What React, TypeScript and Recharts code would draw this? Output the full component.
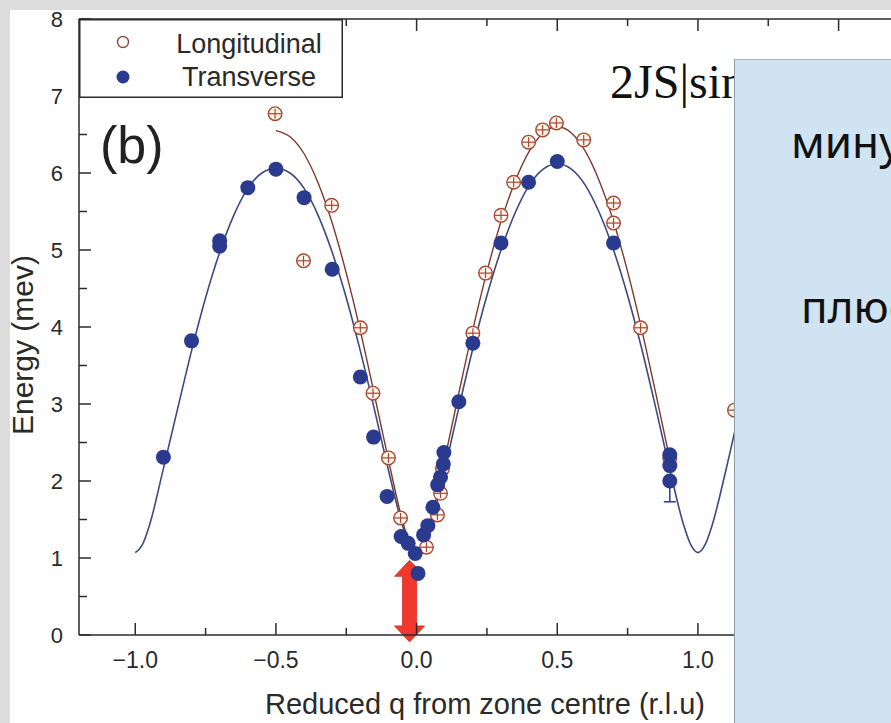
import React from 'react';
import { ComposedChart, Line, Scatter, XAxis, YAxis, Legend, ReferenceLine, ErrorBar } from 'recharts';

// ---- data ----
const seriesNames = ['Longitudinal', 'Transverse'];

const transversePoints = [
  { q: -0.9, e: 2.31 }, { q: -0.8, e: 3.82 }, { q: -0.7, e: 5.05 }, { q: -0.7, e: 5.12 },
  { q: -0.6, e: 5.81 }, { q: -0.5, e: 6.05 }, { q: -0.4, e: 5.68 }, { q: -0.3, e: 4.75 },
  { q: -0.2, e: 3.35 }, { q: -0.153, e: 2.57 }, { q: -0.105, e: 1.8 }, { q: -0.055, e: 1.28 },
  { q: -0.03, e: 1.19 }, { q: -0.005, e: 1.06 }, { q: 0.005, e: 0.8 }, { q: 0.025, e: 1.3 },
  { q: 0.04, e: 1.42 }, { q: 0.058, e: 1.66 }, { q: 0.075, e: 1.95 }, { q: 0.085, e: 2.05 },
  { q: 0.095, e: 2.22 }, { q: 0.097, e: 2.37 }, { q: 0.15, e: 3.03 }, { q: 0.2, e: 3.79 },
  { q: 0.3, e: 5.09 }, { q: 0.398, e: 5.88 }, { q: 0.5, e: 6.15 }, { q: 0.7, e: 5.09 },
  { q: 0.9, e: 2.34 }, { q: 0.9, e: 2.2 }, { q: 0.9, e: 2.0 },
];
const transverseErrPoint = [{ q: 0.9, e: 2.0, err: [0.27, 0] }];

const longitudinalPoints = [
  { q: -0.503, e: 6.77 }, { q: -0.402, e: 4.86 }, { q: -0.302, e: 5.58 }, { q: -0.2, e: 3.99 },
  { q: -0.155, e: 3.14 }, { q: -0.1, e: 2.3 }, { q: -0.057, e: 1.52 }, { q: 0.035, e: 1.14 },
  { q: 0.074, e: 1.56 }, { q: 0.085, e: 1.84 }, { q: 0.092, e: 2.16 }, { q: 0.2, e: 3.92 },
  { q: 0.245, e: 4.7 }, { q: 0.3, e: 5.45 }, { q: 0.345, e: 5.88 }, { q: 0.398, e: 6.4 },
  { q: 0.448, e: 6.56 }, { q: 0.497, e: 6.65 }, { q: 0.594, e: 6.43 }, { q: 0.7, e: 5.61 },
  { q: 0.7, e: 5.35 }, { q: 0.796, e: 3.99 }, { q: 0.9, e: 2.3 }, { q: 1.13, e: 2.92 },
];

const transverseFit = [
  { q: -1.0, e: 1.07 }, { q: -0.975, e: 1.17 }, { q: -0.95, e: 1.42 }, { q: -0.9, e: 2.16 },
  { q: -0.85, e: 2.93 }, { q: -0.8, e: 3.69 }, { q: -0.75, e: 4.38 }, { q: -0.7, e: 4.97 },
  { q: -0.65, e: 5.45 }, { q: -0.6, e: 5.8 }, { q: -0.55, e: 6.0 }, { q: -0.5, e: 6.06 },
  { q: -0.45, e: 6.0 }, { q: -0.4, e: 5.8 }, { q: -0.35, e: 5.45 }, { q: -0.3, e: 4.97 },
  { q: -0.25, e: 4.38 }, { q: -0.2, e: 3.69 }, { q: -0.15, e: 2.93 }, { q: -0.1, e: 2.14 },
  { q: -0.05, e: 1.42 }, { q: -0.025, e: 1.17 }, { q: 0.0, e: 1.07 }, { q: 0.025, e: 1.17 },
  { q: 0.05, e: 1.42 }, { q: 0.1, e: 2.15 }, { q: 0.15, e: 2.95 }, { q: 0.2, e: 3.72 },
  { q: 0.25, e: 4.41 }, { q: 0.3, e: 5.0 }, { q: 0.35, e: 5.48 }, { q: 0.4, e: 5.84 },
  { q: 0.45, e: 6.05 }, { q: 0.5, e: 6.12 }, { q: 0.55, e: 6.05 }, { q: 0.6, e: 5.84 },
  { q: 0.65, e: 5.48 }, { q: 0.7, e: 5.0 }, { q: 0.75, e: 4.41 }, { q: 0.8, e: 3.72 },
  { q: 0.85, e: 2.95 }, { q: 0.9, e: 2.15 }, { q: 0.95, e: 1.42 }, { q: 0.975, e: 1.17 },
  { q: 1.0, e: 1.07 }, { q: 1.025, e: 1.17 }, { q: 1.05, e: 1.42 }, { q: 1.1, e: 2.15 },
  { q: 1.15, e: 2.95 }, { q: 1.2, e: 3.72 },
];

const longitudinalFit = [
  { q: -0.5, e: 6.55 }, { q: -0.45, e: 6.47 }, { q: -0.4, e: 6.25 }, { q: -0.35, e: 5.87 },
  { q: -0.3, e: 5.35 }, { q: -0.25, e: 4.7 }, { q: -0.2, e: 3.95 }, { q: -0.15, e: 3.12 },
  { q: -0.1, e: 2.27 }, { q: -0.05, e: 1.48 }, { q: -0.025, e: 1.19 }, { q: 0.0, e: 1.07 },
  { q: 0.025, e: 1.19 }, { q: 0.05, e: 1.48 }, { q: 0.1, e: 2.28 }, { q: 0.15, e: 3.14 },
  { q: 0.2, e: 3.97 }, { q: 0.25, e: 4.72 }, { q: 0.3, e: 5.37 }, { q: 0.35, e: 5.89 },
  { q: 0.4, e: 6.28 }, { q: 0.45, e: 6.52 }, { q: 0.5, e: 6.6 }, { q: 0.55, e: 6.52 },
  { q: 0.6, e: 6.28 }, { q: 0.65, e: 5.89 }, { q: 0.7, e: 5.37 }, { q: 0.75, e: 4.72 },
  { q: 0.8, e: 3.97 }, { q: 0.85, e: 3.14 }, { q: 0.9, e: 2.28 },
];

const gapArrow = [{ q: -0.025, e: -0.09 }, { q: -0.025, e: 0.97 }];

const xTicks = [-1, -0.75, -0.5, -0.25, 0, 0.25, 0.5, 0.75, 1, 1.25, 1.5, 1.75];
const yTicks = [0, 0.5, 1, 1.5, 2, 2.5, 3, 3.5, 4, 4.5, 5, 5.5, 6, 6.5, 7, 7.5, 8];

const xTitle = 'Reduced q from zone centre (r.l.u)';
const yTitle = 'Energy (mev)';
const panelLabel = '(b)';
const formulaText = '2JS|sin(πq)|';
const boxLines = ['минус', 'плюс'];

// ---- styles ----
const AXIS = '#2b2b2b';
const TEXT = '#2a2a2a';
const BLUE = '#2a3a8f';
const BLUE_LINE = '#3d4a7e';
const BROWN = '#a9482f';
const BROWN_LINE = '#7d3a2c';
const SANS = '"Liberation Sans", Arial, sans-serif';
const MARGIN_TOP = 19;

const isMajor = (v: number, step: number) => Math.abs(v / step - Math.round(v / step)) < 1e-6;
const fmtX = (v: number) => (v < 0 ? '\u2212' : '') + Math.abs(v).toFixed(1);

const XTick = (props: any) => {
  const { x, y, payload } = props;
  const v = payload.value as number;
  const major = isMajor(v, 0.5);
  const len = major ? 12 : 7;
  return (
    <g>
      <line x1={x} y1={y} x2={x} y2={y - len} stroke={AXIS} strokeWidth={1.5} />
      <line x1={x} y1={MARGIN_TOP} x2={x} y2={MARGIN_TOP + len} stroke={AXIS} strokeWidth={1.5} />
      {major && (
        <text x={x} y={y + 33} textAnchor="middle" fontSize={23} fontFamily={SANS} fill={TEXT}>
          {fmtX(v)}
        </text>
      )}
    </g>
  );
};

const YTick = (props: any) => {
  const { x, y, payload } = props;
  const v = payload.value as number;
  const major = isMajor(v, 1);
  const len = major ? 12 : 8;
  return (
    <g>
      <line x1={x} y1={y} x2={x + len} y2={y} stroke={AXIS} strokeWidth={1.5} />
      {major && (
        <text x={x - 16} y={y} dy="0.36em" textAnchor="end" fontSize={22} fontFamily={SANS} fill={TEXT}>
          {String(v)}
        </text>
      )}
    </g>
  );
};

const TransverseDot = (props: any) => {
  const { cx, cy } = props;
  if (cx == null || cy == null) return <g />;
  return <circle cx={cx} cy={cy} r={7.5} fill={BLUE} />;
};

const NoDot = () => <g />;

const LongitudinalDot = (props: any) => {
  const { cx, cy } = props;
  if (cx == null || cy == null) return <g />;
  return (
    <g>
      <circle cx={cx} cy={cy} r={6.8} fill="#fff6ef" stroke={BROWN} strokeWidth={1.4} />
      <line x1={cx - 6.5} y1={cy} x2={cx + 6.5} y2={cy} stroke={BROWN} strokeWidth={1.2} />
      <line x1={cx} y1={cy - 5} x2={cx} y2={cy + 5} stroke={BROWN} strokeWidth={1.2} />
    </g>
  );
};

const DoubleArrow = (props: any) => {
  const { x1, y1, x2, y2 } = props;
  if (x1 == null) return <g />;
  const cx = (x1 + x2) / 2;
  const top = Math.min(y1, y2);
  const bot = Math.max(y1, y2);
  const hw = 15, sw = 7, hl = 16;
  const pts = [
    [cx, top], [cx + hw, top + hl], [cx + sw, top + hl], [cx + sw, bot - hl], [cx + hw, bot - hl],
    [cx, bot], [cx - hw, bot - hl], [cx - sw, bot - hl], [cx - sw, top + hl], [cx - hw, top + hl],
  ].map((p) => p.join(',')).join(' ');
  return <polygon points={pts} fill="#f2382c" stroke="#d12a20" strokeWidth={0.8} />;
};

const LegendBox = () => (
  <svg width={264} height={79} style={{ display: 'block' }}>
    <rect x={0.75} y={0.75} width={262.5} height={77.5} fill="#ffffff" stroke={AXIS} strokeWidth={1.5} />
    <circle cx={44} cy={23} r={5.5} fill="#ffffff" stroke="#8b4a3f" strokeWidth={1.4} />
    <text x={170} y={34} textAnchor="middle" fontSize={27} fontFamily={SANS} fill={TEXT}>{seriesNames[0]}</text>
    <circle cx={44} cy={58} r={6.5} fill={BLUE} />
    <text x={170} y={67} textAnchor="middle" fontSize={27} fontFamily={SANS} fill={TEXT}>{seriesNames[1]}</text>
  </svg>
);

export default function App() {
  return (
    <div style={{ position: 'absolute', left: 0, top: 0, width: 891, height: 723, overflow: 'hidden', background: '#ffffff' }}>
      <div style={{ position: 'absolute', left: 0, top: 0 }}>
        <ComposedChart width={923} height={723} margin={{ top: MARGIN_TOP, right: 0, bottom: 0, left: 0 }}>
          <XAxis
            type="number"
            dataKey="q"
            domain={[-1.2, 1.8]}
            allowDataOverflow
            ticks={xTicks}
            interval={0}
            tick={<XTick />}
            tickLine={false}
            tickSize={0}
            tickMargin={0}
            axisLine={{ stroke: AXIS, strokeWidth: 1.5 }}
            height={88}
          />
          <YAxis
            type="number"
            dataKey="e"
            domain={[0, 8]}
            allowDataOverflow
            ticks={yTicks}
            interval={0}
            tick={<YTick />}
            tickLine={false}
            tickSize={0}
            tickMargin={0}
            axisLine={{ stroke: AXIS, strokeWidth: 1.5 }}
            width={79}
          />
          <ReferenceLine y={8} stroke={AXIS} strokeWidth={1.5} ifOverflow="visible" />
          <Line data={transverseFit} dataKey="e" type="monotone" stroke={BLUE_LINE} strokeWidth={1.6} dot={false} activeDot={false} isAnimationActive={false} legendType="none" />
          <Line data={longitudinalFit} dataKey="e" type="monotone" stroke={BROWN_LINE} strokeWidth={1.4} dot={false} activeDot={false} isAnimationActive={false} legendType="none" />
          <Scatter name={seriesNames[0]} data={longitudinalPoints} dataKey="e" fill={BROWN} shape={LongitudinalDot} isAnimationActive={false} />
          <Scatter data={transverseErrPoint} dataKey="e" fill={BLUE} shape={NoDot} isAnimationActive={false} legendType="none">
            <ErrorBar dataKey="err" direction="y" width={6} stroke={BLUE} strokeWidth={1.5} />
          </Scatter>
          <Scatter name={seriesNames[1]} data={transversePoints} dataKey="e" fill={BLUE} shape={TransverseDot} isAnimationActive={false} />
          <ReferenceLine segment={[{ x: gapArrow[0].q, y: gapArrow[0].e }, { x: gapArrow[1].q, y: gapArrow[1].e }]} ifOverflow="visible" shape={DoubleArrow} />
          <Legend layout="vertical" align="center" verticalAlign="middle" wrapperStyle={{ left: 79, top: 19, width: 264, height: 79 }} content={() => <LegendBox />} />
        </ComposedChart>
      </div>
      <svg width={891} height={723} style={{ position: 'absolute', left: 0, top: 0, pointerEvents: 'none' }}>
        <text x={100} y={163} fontSize={52} fontFamily={SANS} fill="#222">{panelLabel}</text>
        <text x={485} y={714} textAnchor="middle" fontSize={29} fontFamily={SANS} fill={TEXT}>{xTitle}</text>
        <text x={0} y={0} transform="translate(33,345) rotate(-90)" textAnchor="middle" fontSize={30} fontFamily={SANS} fill={TEXT}>{yTitle}</text>
        <text x={610} y={98} fontSize={48} fontFamily={'"Liberation Serif", "Times New Roman", serif'} fill="#111">{formulaText}</text>
      </svg>
      <div style={{ position: 'absolute', left: 734, top: 59, width: 200, height: 700, background: '#cfe3f2', borderLeft: '1px solid #8d9ba6', borderTop: '1px solid #a9bccb' }}>
        <svg width={200} height={700} style={{ position: 'absolute', left: 0, top: 0 }}>
          <text x={56} y={98} fontSize={44} fontFamily={'"Noto Sans", sans-serif'} fill="#111">{boxLines[0]}</text>
          <text x={66} y={263} fontSize={44} fontFamily={'"Noto Sans", sans-serif'} fill="#111">{boxLines[1]}</text>
        </svg>
      </div>
      <div style={{ position: 'absolute', left: 0, top: 0, width: 891, height: 10, background: '#dcdcdc' }} />
      <div style={{ position: 'absolute', left: 0, top: 0, width: 10, height: 723, background: '#dcdcdc' }} />
    </div>
  );
}
